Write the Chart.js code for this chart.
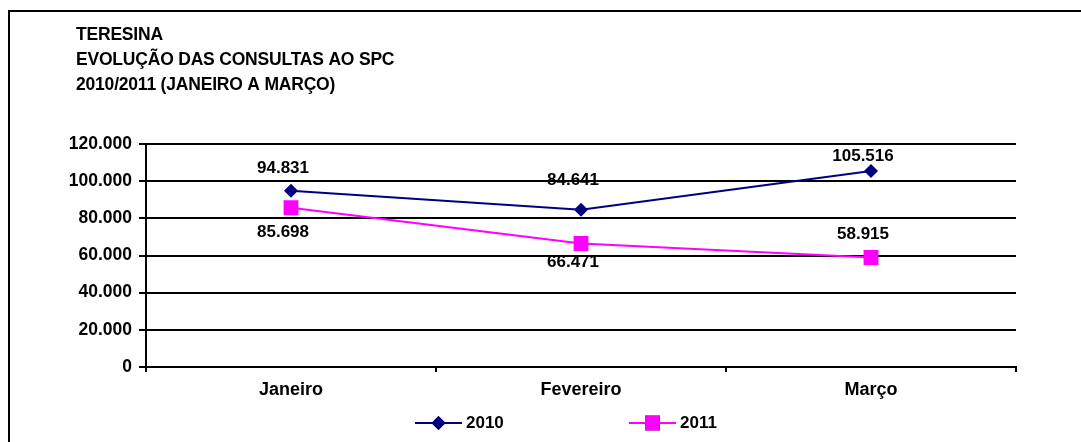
<!DOCTYPE html>
<html>
<head>
<meta charset="utf-8">
<script src="https://cdn.jsdelivr.net/npm/chart.js@4.4.1/dist/chart.umd.min.js"></script>
<style>
  html, body { margin: 0; padding: 0; background: #fff; }
  .wrap { position: relative; width: 1081px; height: 442px; overflow: hidden; }
  .frame { position: absolute; left: 8px; top: 10px; width: 1200px; height: 500px;
           border-left: 2px solid #000; border-top: 2px solid #000; }
  canvas { position: absolute; left: 0; top: 0; }
</style>
</head>
<body>
<div class="wrap">
  <div class="frame"></div>
  <canvas id="graph" width="1081" height="442"></canvas>
</div>
<script>
// data
const months = ["Janeiro", "Fevereiro", "Março"];
const values2010 = [94831, 84641, 105516];
const values2011 = [85698, 66471, 58915];
const titleLines = ["TERESINA", "EVOLUÇÃO DAS CONSULTAS AO SPC", "2010/2011 (JANEIRO A MARÇO)"];
const yTicks = [0, 20000, 40000, 60000, 80000, 100000, 120000];

const FONT = "'Liberation Sans', Arial, sans-serif";

// 94831 -> "94.831"
function fmt(v) {
  return String(v).replace(/\B(?=(\d{3})+(?!\d))/g, ".");
}

// vertical shift of each value label from its point (px), as placed in the original
const labelShift = [[-22, -29, -15], [25, 19, -23]];

const titlePlugin = {
  id: "titleLines",
  afterDraw(chart) {
    const ctx = chart.ctx;
    ctx.save();
    ctx.fillStyle = "#000";
    ctx.font = "bold 17.5px " + FONT;
    ctx.letterSpacing = "-0.2px";
    ctx.textBaseline = "middle";
    ctx.textAlign = "left";
    titleLines.forEach((t, i) => ctx.fillText(t, 76, 35.5 + i * 24.8));
    ctx.restore();
  },
};

const valueLabels = {
  id: "valueLabels",
  afterDatasetsDraw(chart) {
    const ctx = chart.ctx;
    ctx.save();
    ctx.fillStyle = "#000";
    ctx.font = "bold 17px " + FONT;
    ctx.textAlign = "center";
    ctx.textBaseline = "middle";
    chart.data.datasets.forEach((ds, di) => {
      chart.getDatasetMeta(di).data.forEach((pt, i) => {
        ctx.fillText(fmt(ds.data[i]), pt.x - 8, pt.y + labelShift[di][i]);
      });
    });
    ctx.restore();
  },
};

// legend: line with marker + label, bottom centre
const legendPlugin = {
  id: "lineLegend",
  afterDraw(chart) {
    const ctx = chart.ctx;
    const y = 423;
    const starts = [415, 629];
    ctx.save();
    chart.data.datasets.forEach((ds, di) => {
      const x0 = starts[di];
      ctx.strokeStyle = ds.borderColor;
      ctx.lineWidth = 2;
      ctx.beginPath();
      ctx.moveTo(x0, y);
      ctx.lineTo(x0 + 47, y);
      ctx.stroke();
      Chart.helpers.drawPoint(ctx, {
        pointStyle: ds.pointStyle,
        radius: ds.pointRadius,
        borderWidth: 0,
      }, x0 + 23.5, y);
      ctx.fillStyle = ds.pointBackgroundColor;
      ctx.fill();
      ctx.fillStyle = "#000";
      ctx.font = "bold 17px " + FONT;
      ctx.textAlign = "left";
      ctx.textBaseline = "middle";
      ctx.fillText(ds.label, x0 + 51, y);
    });
    ctx.restore();
  },
};

const ctx = document.getElementById("graph").getContext("2d");
new Chart(ctx, {
  type: "line",
  data: {
    labels: months,
    datasets: [
      {
        label: "2010",
        data: values2010,
        borderColor: "#000080",
        backgroundColor: "#000080",
        pointBackgroundColor: "#000080",
        pointBorderColor: "#000080",
        borderWidth: 2,
        pointStyle: "rectRot",
        pointRadius: 7,
        pointBorderWidth: 0,
        tension: 0,
      },
      {
        label: "2011",
        data: values2011,
        borderColor: "#FF00FF",
        backgroundColor: "#FF00FF",
        pointBackgroundColor: "#FF00FF",
        pointBorderColor: "#FF00FF",
        borderWidth: 2,
        pointStyle: "rect",
        pointRadius: 10.5,
        pointBorderWidth: 0,
        tension: 0,
      },
    ],
  },
  options: {
    responsive: false,
    animation: false,
    layout: { padding: { top: 144, right: 65, bottom: 30, left: 0 } },
    plugins: {
      legend: { display: false },
      title: { display: false },
      tooltip: { enabled: false },
    },
    scales: {
      x: {
        offset: true,
        afterFit(scale) { scale.height = 45; },
        grid: {
          offset: true,
          drawOnChartArea: false,
          drawTicks: true,
          tickLength: 5,
          color: "#000",
          lineWidth: 2,
        },
        border: { display: true, color: "#000", width: 2 },
        ticks: {
          color: "#000",
          padding: 7,
          maxRotation: 0,
          font: { family: FONT, size: 18, weight: "bold" },
        },
      },
      y: {
        min: 0,
        max: 120000,
        afterFit(scale) { scale.width = 146; },
        afterBuildTicks(scale) { scale.ticks = yTicks.map((v) => ({ value: v })); },
        grid: { color: "#000", lineWidth: 2, tickLength: 7 },
        border: { display: true, color: "#000", width: 2 },
        ticks: {
          color: "#000",
          padding: 7,
          font: { family: FONT, size: 17.5, weight: "bold" },
          callback: (v) => fmt(v),
        },
      },
    },
  },
  plugins: [titlePlugin, valueLabels, legendPlugin],
});
</script>
</body>
</html>
